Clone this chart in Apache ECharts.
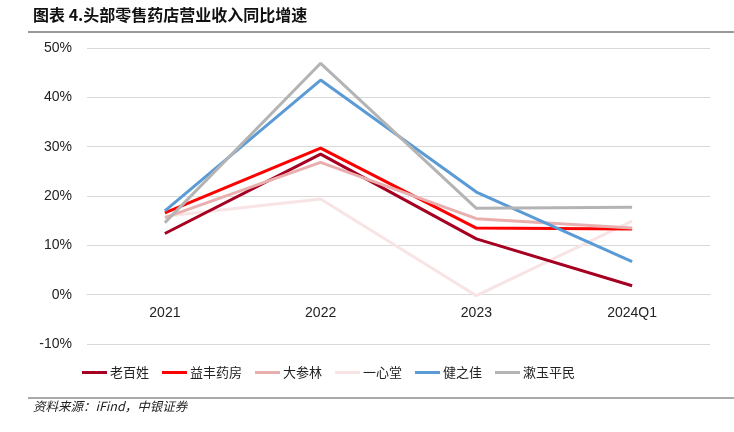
<!DOCTYPE html>
<html>
<head>
<meta charset="utf-8">
<script src="https://cdn.jsdelivr.net/npm/echarts@6/dist/echarts.min.js"></script>
<style>html,body{margin:0;padding:0;background:#fff;}#c{width:734px;height:432px;}</style>
</head>
<body>
<div id="c"></div>
<script>
const categories = ['2021', '2022', '2023', '2024Q1'];
const yTicks = [-10, 0, 10, 20, 30, 40, 50];
const names = ['老百姓', '益丰药房', '大参林', '一心堂', '健之佳', '漱玉平民'];
const laobaixing = [12.4, 28.5, 11.3, 1.8];
const yifeng = [16.6, 29.7, 13.5, 13.3];
const dashenlin = [15.6, 26.8, 15.4, 13.5];
const yixintang = [15.9, 19.4, -0.2, 14.9];
const jianzhijia = [17.0, 43.5, 20.8, 6.7];
const shuyu = [14.6, 46.9, 17.5, 17.7];
const colors = ['#A50021', '#FF0000', '#E9AFAF', '#F8E4E4', '#5B9BD5', '#B4B4B4'];
const seriesData = [laobaixing, yifeng, dashenlin, yixintang, jianzhijia, shuyu];

const gridTop = 48, gridBottom = 88, H = 432;
const unitPx = (H - gridTop - gridBottom) / (yTicks[yTicks.length - 1] - yTicks[0]);

const chart = echarts.init(document.getElementById('c'));
chart.setOption({
  animation: false,
  textStyle: { fontFamily: 'Liberation Sans, Arial, sans-serif' },
  grid: { left: 87, right: 24, top: gridTop, bottom: gridBottom },
  xAxis: {
    type: 'category',
    data: categories,
    offset: -(0 - yTicks[0]) * unitPx,
    axisLine: { show: true, onZero: false, lineStyle: { color: '#D9D9D9', width: 1 } },
    axisTick: { show: false },
    axisLabel: { color: '#222', fontSize: 14, margin: 11 }
  },
  yAxis: {
    type: 'value',
    min: yTicks[0],
    max: yTicks[yTicks.length - 1],
    interval: 10,
    axisLine: { show: false },
    axisTick: { show: false },
    splitLine: { lineStyle: { color: '#D9D9D9', width: 1 } },
    axisLabel: { color: '#222', fontSize: 14, margin: 15, formatter: v => v + '%' }
  },
  legend: {
    data: names,
    left: 82,
    top: 366,
    padding: 0,
    icon: 'rect',
    itemWidth: 25,
    itemHeight: 3,
    itemGap: 13,
    textStyle: { fontFamily: 'Noto Sans CJK SC', fontSize: 13, color: '#222', padding: [0, 0, 0, -2] }
  },
  series: names.map((n, i) => ({
    name: n,
    type: 'line',
    data: seriesData[i],
    symbol: 'none',
    lineStyle: { color: colors[i], width: 3 },
    itemStyle: { color: colors[i] },
    z: i === 3 ? 1 : 2 + i
  })),
  graphic: [
    { type: 'text', left: 33, top: 7, style: { text: '图表 4.头部零售药店营业收入同比增速', font: 'bold 16px "Noto Sans CJK SC"', fill: '#111' } },
    { type: 'line', shape: { x1: 28, y1: 32, x2: 734, y2: 32 }, style: { stroke: '#777', lineWidth: 1.5 } },
    { type: 'line', shape: { x1: 28, y1: 398, x2: 734, y2: 398 }, style: { stroke: '#555', lineWidth: 1 } },
    { type: 'text', left: 33, top: 400, style: { text: '资料来源：iFind，中银证券', font: 'italic 12.5px "Noto Sans CJK SC"', fill: '#222' } }
  ]
});
</script>
</body>
</html>
